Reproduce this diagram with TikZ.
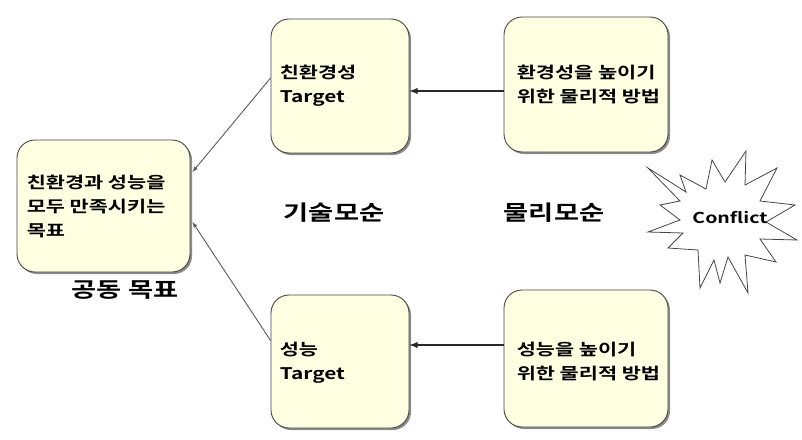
\documentclass[tikz,border=0pt]{standalone}
\usepackage{fontspec}
\setmainfont{Noto Sans CJK KR}[FakeStretch=1.3,BoldFont={Noto Sans CJK KR Bold}]
\usepackage{tikz}
\usetikzlibrary{arrows,shadows}

\definecolor{boxfill}{RGB}{255,255,226}
\definecolor{boxline}{RGB}{70,70,70}
\definecolor{arrowdark}{RGB}{40,40,40}
\definecolor{arrowgray}{RGB}{90,90,90}

\tikzset{
  goalbox/.style={draw=boxline,line width=0.9pt,fill=boxfill,rounded corners=18pt,
    drop shadow={shadow xshift=2pt,shadow yshift=-2pt,fill=gray!90,opacity=1}},
  boxtext/.style={anchor=west,align=left,inner sep=0pt,
    font=\bfseries\fontsize{16}{24}\selectfont},
  bigtext/.style={font=\bfseries\fontsize{21}{25}\selectfont},
}

\begin{document}
\begin{tikzpicture}[x=1pt,y=-1pt]
\useasboundingbox (0,0) rectangle (802,439);
\begin{scope}[>=latex]
    % common goal
    \node[goalbox,minimum width=173pt,minimum height=132pt] (goal) at (103.5,206) {};
    \node[boxtext] (goaltext) at ([xshift=10pt]goal.west)
         {친환경과 성능을\\모두 만족시키는\\목표};
    \node[bigtext] (goallabel) at (125,290) {공동 목표};

    % targets
    \node[goalbox,minimum width=138pt,minimum height=134pt] (envtarget) at (340,86) {};
    \node[boxtext] (envtargettext) at ([xshift=9pt]envtarget.west) {친환경성\\Target};
    \node[goalbox,minimum width=138pt,minimum height=133pt] (perftarget) at (340,361.5) {};
    \node[boxtext] (perftargettext) at ([xshift=9pt,yshift=-1pt]perftarget.west) {성능\\Target};

    % physical methods
    \node[goalbox,minimum width=164pt,minimum height=135pt] (envmethod) at (586,84.5) {};
    \node[boxtext] (envmethodtext) at ([xshift=13pt]envmethod.west)
         {환경성을 높이기\\위한 물리적 방법};
    \node[goalbox,minimum width=164pt,minimum height=137pt] (perfmethod) at (586,358.5) {};
    \node[boxtext] (perfmethodtext) at ([xshift=13pt,yshift=-3pt]perfmethod.west)
         {성능을 높이기\\위한 물리적 방법};

    \node[bigtext] (techlabel) at (334,213) {기술모순};
    \node[bigtext] (physlabel) at (554,213) {물리모순};

    % arrows
    \draw[arrowdark,line width=1.8pt,->] ([yshift=-6.5pt]envmethod.west)
         -- ([yshift=-6.5pt]envmethod.west -| envtarget.east);
    \draw[arrowdark,line width=1.8pt,->] ([yshift=13.5pt]perfmethod.west)
         -- ([yshift=13.5pt]perfmethod.west -| perftarget.east);
    \draw[arrowgray,line width=0.9pt,->] ([yshift=8pt]envtarget.west)
         -- ([xshift=2pt,yshift=34pt]goal.east);
    \draw[arrowgray,line width=0.9pt,->] ([yshift=21pt]perftarget.west)
         -- ([xshift=2pt,yshift=-16pt]goal.east);

    % conflict burst
    \draw[boxline,fill=white,line width=0.8pt]
         (746,151) -- (745,185) -- (777,168) -- (760,201) -- (795,205) -- (766,222)
      -- (797,240) -- (760,239) -- (776,262) -- (745,255) -- (748,293) -- (728,257)
      -- (720,283) -- (714,260) -- (700,288) -- (698,250) -- (668,248) -- (683,233)
      -- (648,232) -- (680,220) -- (660,205) -- (680,201) -- (648,168) -- (686,192)
      -- (680,175) -- (706,189) -- (712,160) -- (725,182) -- cycle;
    \node[font=\bfseries\fontsize{15}{18}\selectfont] (conflict) at (730,218) {Conflict};
\end{scope}
\end{tikzpicture}
\end{document}
